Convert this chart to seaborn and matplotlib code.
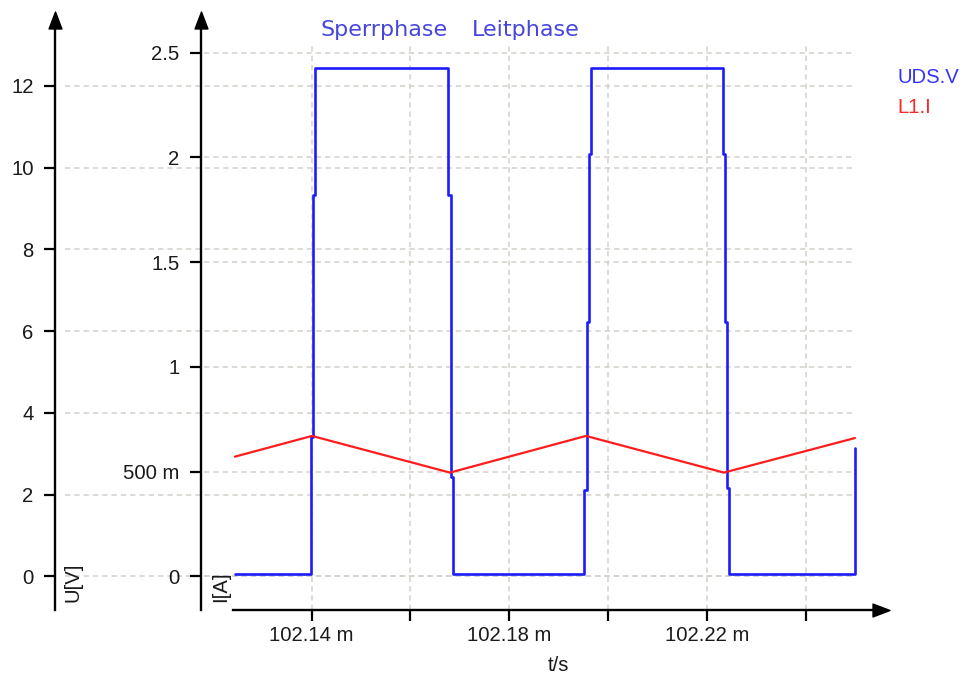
import matplotlib
matplotlib.use("Agg")
import matplotlib.pyplot as plt
import matplotlib.transforms as mtransforms
from matplotlib.path import Path
import seaborn as sns

# ---------------- data ----------------
uds_t = [102.1245, 102.1398, 102.1398, 102.1403, 102.1403, 102.1407, 102.1407,
         102.1677, 102.1677, 102.1682, 102.1682, 102.1686, 102.1686,
         102.1952, 102.1952, 102.1957, 102.1957, 102.1961, 102.1961, 102.1965, 102.1965,
         102.2232, 102.2232, 102.2236, 102.2236, 102.2240, 102.2240, 102.2244, 102.2244,
         102.2499, 102.2499]
uds_v = [0.05, 0.05, 3.42, 3.42, 9.33, 9.33, 12.44,
         12.44, 9.33, 9.33, 2.42, 2.42, 0.05,
         0.05, 2.11, 2.11, 6.22, 6.22, 10.33, 10.33, 12.44,
         12.44, 10.33, 10.33, 6.22, 6.22, 2.16, 2.16, 0.05,
         0.05, 3.14]
l1_t = [102.1245, 102.1401, 102.1680, 102.1955, 102.2234, 102.2499]
l1_i = [0.571, 0.670, 0.495, 0.670, 0.495, 0.660]

u_ticks = [0, 2, 4, 6, 8, 10, 12]
u_labels = ["0", "2", "4", "6", "8", "10", "12"]
i_ticks = [0, 0.5, 1.0, 1.5, 2.0, 2.5]
i_labels = ["0", "500 m", "1", "1.5", "2", "2.5"]
t_ticks = [102.14, 102.16, 102.18, 102.20, 102.22, 102.24]
t_labels = ["102.14 m", "", "102.18 m", "", "102.22 m", ""]
phase_labels = ["Sperrphase", "Leitphase"]
legend_names = ["UDS.V", "L1.I"]
axis_names = ["U[V]", "I[A]", "t/s"]

# ---------------- style ----------------
sns.set_style("white")
plt.rcParams['font.family'] = ['Liberation Sans', 'DejaVu Sans']
plt.rcParams['lines.scale_dashes'] = False

W, H = 963, 675
fig = plt.figure(figsize=(W / 100, H / 100), dpi=100)

# pixel geometry of the reference
AX_L, AX_R, AX_T, AX_B = 55, 890, 20, 610
I_AX_X = 201
PX_PER_MS = 98.9 / 0.02
T0_PX, T0 = 311.5, 102.14
ZERO_Y = 576.3
PX_PER_V = 40.875
PX_PER_A = 209.5


def tx(px):
    return T0 + (px - T0_PX) / PX_PER_MS


ax = fig.add_axes([AX_L / W, (H - AX_B) / H, (AX_R - AX_L) / W, (AX_B - AX_T) / H])
ax.patch.set_alpha(0)
ax2 = ax.twinx()

blue = '#1c1cff'
red = '#ff1c1c'
sns.lineplot(x=uds_t, y=uds_v, ax=ax, color=blue, lw=1.9, estimator=None, sort=False, zorder=3)
sns.lineplot(x=l1_t, y=l1_i, ax=ax2, color=red, lw=1.6, estimator=None, sort=False, zorder=3)

# ---------------- grid ----------------
gc = '#d4d1ca'
gls = (0, (3.8, 2.9))
glw = 1.1
gx_end = (855 - AX_L) / (AX_R - AX_L)
i_frac = (I_AX_X - AX_L) / (AX_R - AX_L)
blend_u = mtransforms.blended_transform_factory(ax.transAxes, ax.transData)
blend_i = mtransforms.blended_transform_factory(ax.transAxes, ax2.transData)
ax.hlines(u_ticks, 0.012, gx_end, transform=blend_u, colors=gc, lw=glw, linestyles=gls, zorder=1)
ax.hlines(i_ticks, i_frac + 0.004, gx_end, transform=blend_i, colors=gc, lw=glw, linestyles=gls, zorder=1)
ax.vlines(t_ticks, 0, (AX_B - 43) / (AX_B - AX_T), transform=ax.get_xaxis_transform(),
          colors=gc, lw=glw, linestyles=gls, zorder=1)
ax.set_xlim(tx(AX_L), tx(AX_R))
ax.set_ylim((ZERO_Y - AX_B) / PX_PER_V, (ZERO_Y - AX_T) / PX_PER_V)
ax2.set_ylim((ZERO_Y - AX_B) / PX_PER_A, (ZERO_Y - AX_T) / PX_PER_A)

# ---------------- spines ----------------
slw = 1.7
for s in ['top', 'right']:
    ax.spines[s].set_visible(False)
for s in ['top', 'right', 'bottom']:
    ax2.spines[s].set_visible(False)
ax.spines['left'].set_linewidth(slw)
ax.spines['bottom'].set_linewidth(slw)
ax.spines['bottom'].set_bounds(tx(233), tx(878))
ax2.spines['left'].set_visible(True)
ax2.spines['left'].set_position(('axes', i_frac))
ax2.spines['left'].set_linewidth(slw)
for s in ax.spines.values():
    s.set_color('black')
ax2.spines['left'].set_color('black')

ax2.yaxis.tick_left()
ax.yaxis.tick_left()
ax.xaxis.tick_bottom()

lab_c = '#1a1a1a'
fs = 14.6
ax.set_yticks(u_ticks, u_labels)
ax2.set_yticks(i_ticks, i_labels)
ax.set_xticks(t_ticks, t_labels)
for a in (ax, ax2):
    a.tick_params(axis='y', direction='out', length=7.9, width=1.6, pad=7.5,
                  labelsize=fs, labelcolor=lab_c, color='black')
ax.tick_params(axis='x', direction='out', length=7.9, width=1.6, pad=3.5,
               labelsize=fs, labelcolor=lab_c, color='black')
ax.set_xlabel("")
ax.set_ylabel("")
ax2.set_ylabel("")

# arrow heads
up_arrow = Path([(0, 1), (-0.76, -1), (0.76, -1), (0, 1)], [1, 2, 2, 79])
right_arrow = Path([(1, 0), (-1, -0.76), (-1, 0.76), (1, 0)], [1, 2, 2, 79])
ax.plot([0], [1], marker=up_arrow, ms=12.2, color='black', transform=ax.transAxes, clip_on=False, zorder=5)
ax.plot([i_frac], [1], marker=up_arrow, ms=12.2, color='black', transform=ax.transAxes, clip_on=False, zorder=5)
ax.plot([tx(880.5)], [0], marker=right_arrow, ms=12.2, color='black',
        transform=ax.get_xaxis_transform(), clip_on=False, zorder=5)

# ---------------- texts ----------------
ph_c = '#4646dc'
fig.text(320 / W, 1 - 36.5 / H, phase_labels[0], color=ph_c, fontsize=16,
         family=['DejaVu Sans'], ha='left', va='baseline')
fig.text(472 / W, 1 - 36.5 / H, phase_labels[1], color=ph_c, fontsize=16,
         family=['DejaVu Sans'], ha='left', va='baseline')
fig.text(897 / W, 1 - 82.7 / H, legend_names[0], color='#3434ff', fontsize=fs, ha='left', va='baseline')
fig.text(897 / W, 1 - 113 / H, legend_names[1], color='#ff2626', fontsize=fs, ha='left', va='baseline')
fig.text(73 / W, 1 - 582 / H, axis_names[0], color=lab_c, fontsize=fs, rotation=90, ha='center', va='center')
fig.text(221 / W, 1 - 587 / H, axis_names[1], color=lab_c, fontsize=fs, rotation=90, ha='center', va='center')
fig.text(558 / W, 1 - 671 / H, axis_names[2], color=lab_c, fontsize=fs, ha='center', va='baseline')

fig.savefig('out.png', dpi=100)
